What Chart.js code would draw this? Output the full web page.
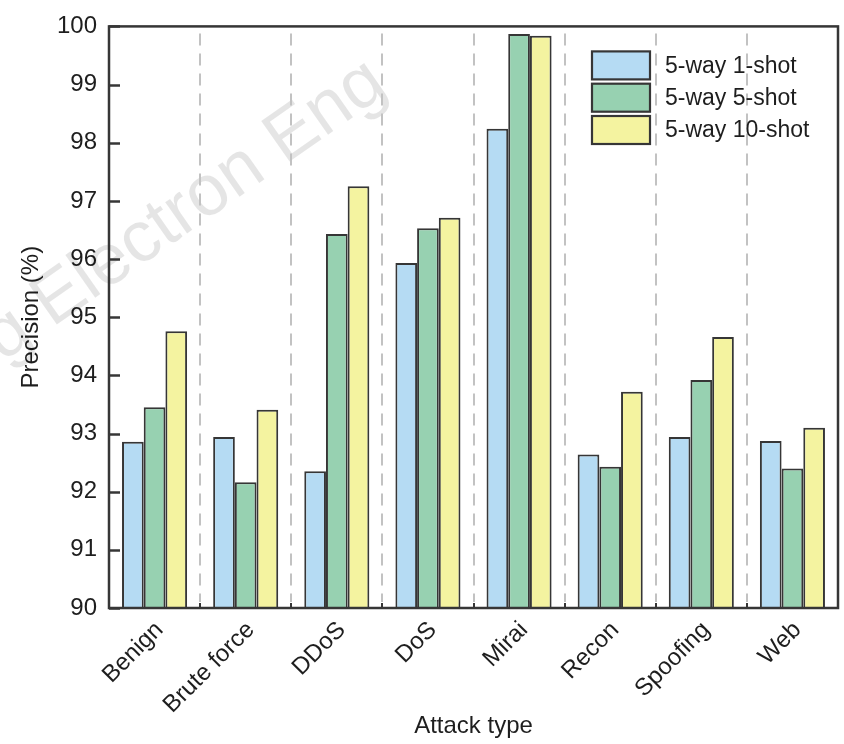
<!DOCTYPE html>
<html>
<head>
<meta charset="utf-8">
<script src="https://cdn.jsdelivr.net/npm/chart.js@4.4.1/dist/chart.umd.min.js"></script>
<style>
  html, body { margin: 0; padding: 0; background: #ffffff; }
  #wrap { width: 844px; height: 744px; position: relative; }
</style>
</head>
<body>
<div id="wrap"><canvas id="c" width="844" height="744"></canvas></div>
<script>
const categories = ['Benign', 'Brute force', 'DDoS', 'DoS', 'Mirai', 'Recon', 'Spoofing', 'Web'];
const oneShot  = [92.86, 92.94, 92.35, 95.93, 98.24, 92.64, 92.94, 92.87];
const fiveShot = [93.45, 92.16, 96.43, 96.53, 99.87, 92.43, 93.92, 92.40];
const tenShot  = [94.76, 93.41, 97.25, 96.71, 99.84, 93.72, 94.66, 93.10];
const seriesLabels = ['5-way 1-shot', '5-way 5-shot', '5-way 10-shot'];
const yTicks = [90, 91, 92, 93, 94, 95, 96, 97, 98, 99, 100];

const FONT = "'Liberation Sans', Arial, sans-serif";
const INK = '#1e1e1e';
const EDGE = '#363636';
const fills = ['#b5dbf3', '#97d1b1', '#f4f3a0'];

const decor = {
  id: 'decor',
  beforeDatasetsDraw(chart) {
    const {ctx, chartArea: a, scales: {x}} = chart;
    ctx.save();
    // watermark
    ctx.save();
    ctx.translate(52, 328);
    ctx.rotate(-35 * Math.PI / 180);
    ctx.font = '72px ' + FONT;
    ctx.fillStyle = 'rgba(0,0,0,0.1)';
    ctx.textBaseline = 'alphabetic';
    ctx.textAlign = 'left';
    ctx.fillText('Electron Eng', 0, 0);
    ctx.textAlign = 'right';
    ctx.fillText('ng ', 0, 0);
    ctx.restore();
    // dashed separators
    ctx.strokeStyle = '#c2c2c2';
    ctx.lineWidth = 2;
    ctx.setLineDash([12, 8]);
    for (let i = 0; i < categories.length - 1; i++) {
      const px = Math.round((x.getPixelForValue(i) + x.getPixelForValue(i + 1)) / 2);
      ctx.beginPath();
      ctx.moveTo(px, a.top + 7);
      ctx.lineTo(px, a.bottom - 6);
      ctx.stroke();
    }
    ctx.restore();
  },
  afterDatasetsDraw(chart) {
    const {ctx, chartArea: a, scales: {x, y}} = chart;
    ctx.save();
    ctx.strokeStyle = EDGE;
    ctx.setLineDash([]);
    // left inward ticks
    ctx.lineWidth = 2.5;
    yTicks.forEach(v => {
      const py = Math.round(y.getPixelForValue(v)) + 0.5;
      ctx.beginPath();
      ctx.moveTo(a.left, py);
      ctx.lineTo(a.left + 11, py);
      ctx.stroke();
    });
    // bottom inward ticks at category boundaries
    ctx.lineWidth = 2;
    for (let i = 0; i < categories.length - 1; i++) {
      const px = Math.round((x.getPixelForValue(i) + x.getPixelForValue(i + 1)) / 2);
      ctx.beginPath();
      ctx.moveTo(px, a.bottom);
      ctx.lineTo(px, a.bottom - 5);
      ctx.stroke();
    }
    // frame
    ctx.lineWidth = 2.5;
    ctx.strokeRect(a.left, a.top, a.right - a.left, a.bottom - a.top);
    // legend
    const bx = a.right - 246, by = a.top + 25, bw = 58, bh = 28, pitch = 32.3;
    chart.data.datasets.forEach((ds, i) => {
      const top = by + i * pitch;
      ctx.fillStyle = ds.backgroundColor;
      ctx.fillRect(bx, top, bw, bh);
      ctx.lineWidth = 2.2;
      ctx.strokeStyle = EDGE;
      ctx.strokeRect(bx, top, bw, bh);
      ctx.fillStyle = INK;
      ctx.font = '23px ' + FONT;
      ctx.textAlign = 'left';
      ctx.textBaseline = 'middle';
      ctx.fillText(ds.label, bx + 73, top + bh / 2 + 1);
    });
    ctx.restore();
  }
};

const series = [oneShot, fiveShot, tenShot];
new Chart(document.getElementById('c'), {
  type: 'bar',
  data: {
    labels: categories,
    datasets: series.map((d, i) => ({
      label: seriesLabels[i],
      data: d,
      backgroundColor: fills[i],
      borderColor: EDGE,
      borderWidth: 2,
      categoryPercentage: 0.714,
      barPercentage: 1.0
    }))
  },
  options: {
    responsive: false,
    animation: false,
    devicePixelRatio: 1,
    layout: { padding: { top: 19, right: 6, left: 0, bottom: 0 } },
    plugins: { legend: { display: false }, tooltip: { enabled: false } },
    scales: {
      x: {
        grid: { display: false, drawTicks: false },
        border: { display: false },
        ticks: {
          color: INK,
          font: { family: FONT, size: 24 },
          maxRotation: 45,
          minRotation: 45,
          padding: 8,
          labelOffset: 5,
          autoSkip: false
        },
        title: {
          display: true,
          text: 'Attack type',
          color: INK,
          font: { family: FONT, size: 24 },
          padding: { top: 0, bottom: 3 }
        },
        afterFit(s) { s.height = 136; }
      },
      y: {
        min: 90,
        max: 100,
        grid: { display: false, drawTicks: false },
        border: { display: false },
        afterBuildTicks(s) { s.ticks = yTicks.map(v => ({ value: v })); },
        ticks: {
          color: INK,
          font: { family: FONT, size: 24 },
          padding: 12
        },
        title: {
          display: true,
          text: 'Precision (%)',
          color: INK,
          font: { family: FONT, size: 24 },
          padding: { top: 17, bottom: 0 }
        },
        afterFit(s) { s.width = 109; }
      }
    }
  },
  plugins: [decor]
});
</script>
</body>
</html>
